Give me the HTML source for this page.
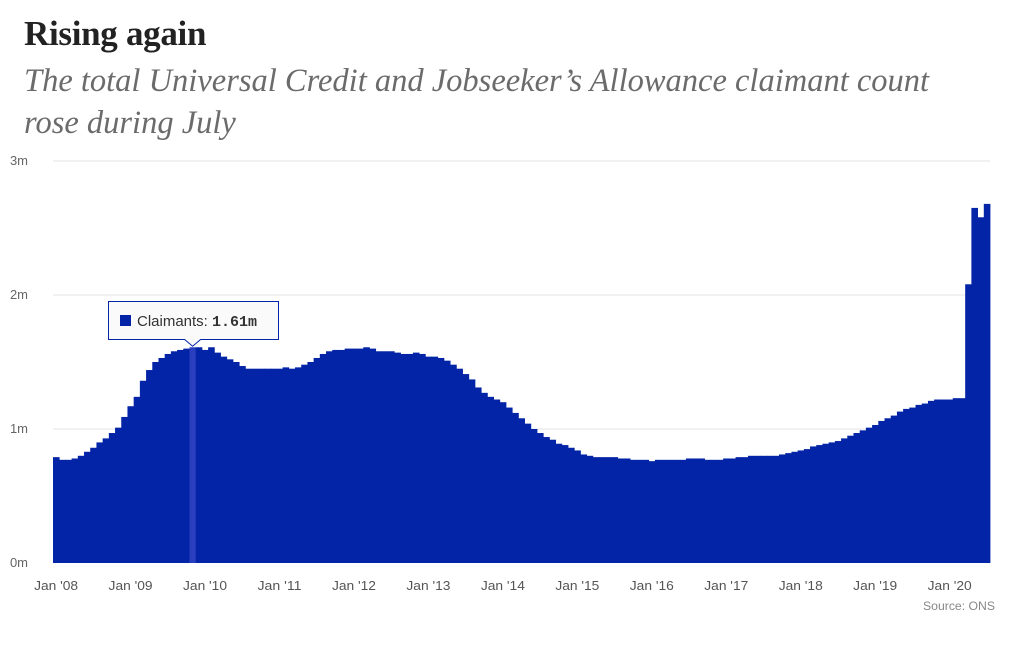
<!DOCTYPE html>
<html><head><meta charset="utf-8"><style>
body{margin:0;background:#fff;width:1024px;height:646px;overflow:hidden;font-family:"Liberation Sans",sans-serif}
#title{position:absolute;left:24px;top:14px;font:bold 35px "Liberation Serif",serif;color:#222;margin:0;letter-spacing:-0.3px}
#sub{position:absolute;left:24px;top:60px;font:italic 32.5px/42px "Liberation Serif",serif;color:#6b6b6b;margin:0;width:945px}
</style></head><body>
<h1 id="title">Rising again</h1>
<p id="sub">The total Universal Credit and Jobseeker’s Allowance claimant count rose during July</p>
<svg id="chart" width="1024" height="646" style="position:absolute;left:0;top:0"></svg>
<script>
const startYear=2008;
const values=[
0.79,0.77,0.77,0.78,0.80,0.83,0.86,0.90,0.93,0.97,1.01,1.09,
1.17,1.24,1.36,1.44,1.50,1.53,1.56,1.58,1.59,1.60,1.61,1.61,
1.59,1.61,1.57,1.54,1.52,1.50,1.47,1.45,1.45,1.45,1.45,1.45,
1.45,1.46,1.45,1.46,1.48,1.50,1.53,1.56,1.58,1.59,1.59,1.60,
1.60,1.60,1.61,1.60,1.58,1.58,1.58,1.57,1.56,1.56,1.57,1.56,
1.54,1.54,1.53,1.51,1.48,1.45,1.41,1.37,1.31,1.27,1.24,1.22,
1.20,1.16,1.12,1.08,1.04,1.00,0.97,0.94,0.92,0.89,0.88,0.86,
0.84,0.81,0.80,0.79,0.79,0.79,0.79,0.78,0.78,0.77,0.77,0.77,
0.76,0.77,0.77,0.77,0.77,0.77,0.78,0.78,0.78,0.77,0.77,0.77,
0.78,0.78,0.79,0.79,0.80,0.80,0.80,0.80,0.80,0.81,0.82,0.83,
0.84,0.85,0.87,0.88,0.89,0.90,0.91,0.93,0.95,0.97,0.99,1.01,
1.03,1.06,1.08,1.10,1.13,1.15,1.16,1.18,1.19,1.21,1.22,1.22,
1.22,1.23,1.23,2.08,2.65,2.58,2.68];
const yTicks=[0,1,2,3];
const yTickLabels=["0m","1m","2m","3m"];
const xTickLabels=["Jan '08","Jan '09","Jan '10","Jan '11","Jan '12","Jan '13","Jan '14","Jan '15","Jan '16","Jan '17","Jan '18","Jan '19","Jan '20"];
const highlightIndex=22;

const svg=document.getElementById('chart');
const NS='http://www.w3.org/2000/svg';
const x0=53,x1=990,y0=563,yTop=161,ymax=3;
const bw=(x1-x0)/values.length;
const X=i=>x0+i*bw;
const Y=v=>y0-(v/ymax)*(y0-yTop);
const F='Liberation Sans Narrow, Liberation Sans, sans-serif';
function mk(t,a){const e=document.createElementNS(NS,t);for(const k in a)e.setAttribute(k,a[k]);svg.appendChild(e);return e;}
yTicks.forEach((t,i)=>{
  if(t>0){const g=mk('line',{x1:53,x2:990,y1:Y(t),y2:Y(t),stroke:'#e3e3e3','stroke-width':1});
  
  }
  const l=mk('text',{x:10,y:Y(t)+4,'font-size':13,fill:'#666','font-family':F,'textLength':18});
  l.textContent=yTickLabels[i];
  
  
});
values.forEach((v,i)=>{
  const r=mk('rect',{x:X(i),y:Y(v),width:bw+0.4,height:y0-Y(v),fill:i===highlightIndex?'#2a3fbf':'#0324a6'});
  
  
});
xTickLabels.forEach((s,i)=>{
  const l=mk('text',{x:X(i*12)+bw/2,y:590,'font-size':13,fill:'#555','text-anchor':'middle','font-family':F,'textLength':44,'lengthAdjust':'spacingAndGlyphs'});
  l.textContent=s;
  
  
});
const src=mk('text',{x:995,y:610,'font-size':12,fill:'#888','text-anchor':'end','font-family':F,'textLength':72,'lengthAdjust':'spacingAndGlyphs'});
src.textContent='Source: ONS';


const hx=X(highlightIndex)+bw/2, hy=Y(values[highlightIndex]);
const tip=mk('path',{d:`M108.5 301.5 H278.5 V339.5 H${hx+8} L${hx} ${hy-1} L${hx-8} 339.5 H108.5 Z`,fill:'#fafafa',stroke:'#0324a6','stroke-width':1});


const sw=mk('rect',{x:120,y:315,width:11,height:11,fill:'#0324a6'});


const tt=mk('text',{x:137,y:326,'font-size':15,fill:'#333','font-family':F});
tt.innerHTML='Claimants: <tspan font-weight="bold" font-family="Liberation Mono, monospace">'+values[highlightIndex].toFixed(2)+'m</tspan>';


</script>
</body></html>
